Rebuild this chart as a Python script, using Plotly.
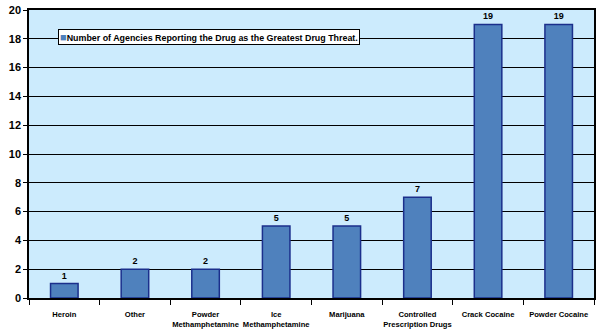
import plotly.graph_objects as go

categories = ["Heroin", "Other", "Powder<br>Methamphetamine", "Ice<br>Methamphetamine",
              "Marijuana", "Controlled<br>Prescription Drugs", "Crack Cocaine", "Powder Cocaine"]
values = [1, 2, 2, 5, 5, 7, 19, 19]
series_name = "Number of Agencies Reporting the Drug as the Greatest Drug Threat."
y_ticks = [0, 2, 4, 6, 8, 10, 12, 14, 16, 18, 20]

fig = go.Figure()
fig.add_trace(go.Bar(
    x=categories, y=values, name=series_name,
    marker=dict(color="#4F81BD", line=dict(color="#1B2F8C", width=1.5)),
    width=0.39,
    text=[str(v) for v in values], textposition="outside", cliponaxis=False,
    textfont=dict(family="Liberation Sans", size=9, color="black", weight="bold"),
    showlegend=False,
))

fig.add_annotation(
    xref="paper", yref="paper", x=0.051, y=0.935, xanchor="left", yanchor="top",
    text="<span style='color:#4F81BD;font-size:11px'>■</span>" + series_name,
    showarrow=False, bgcolor="white", bordercolor="black", borderwidth=1, borderpad=1,
    font=dict(family="Liberation Sans", size=8.9, color="black", weight="bold"),
)

fig.update_layout(
    width=600, height=332,
    margin=dict(l=29, r=4, t=8, b=34),
    paper_bgcolor="white", plot_bgcolor="#CCEBFD",
    font=dict(family="Liberation Sans", color="black"),
    showlegend=False,
    bargap=0.6,
)
fig.update_yaxes(range=[0, 20], tickvals=y_ticks, showgrid=True, gridcolor="black", gridwidth=1,
                 showline=True, linecolor="black", linewidth=1.5, mirror=True,
                 ticks="outside", ticklen=4, tickcolor="black",
                 tickfont=dict(size=11, weight="bold"), zeroline=False)
fig.update_xaxes(showline=True, linecolor="black", linewidth=1.5, mirror=True,
                 ticks="outside", tickson="boundaries", ticklen=5, tickcolor="black",
                 tickangle=0, automargin=False, ticklabelstandoff=8,
                 tickfont=dict(size=7.6, weight="bold"), showgrid=False)

fig.write_html("out.html")
